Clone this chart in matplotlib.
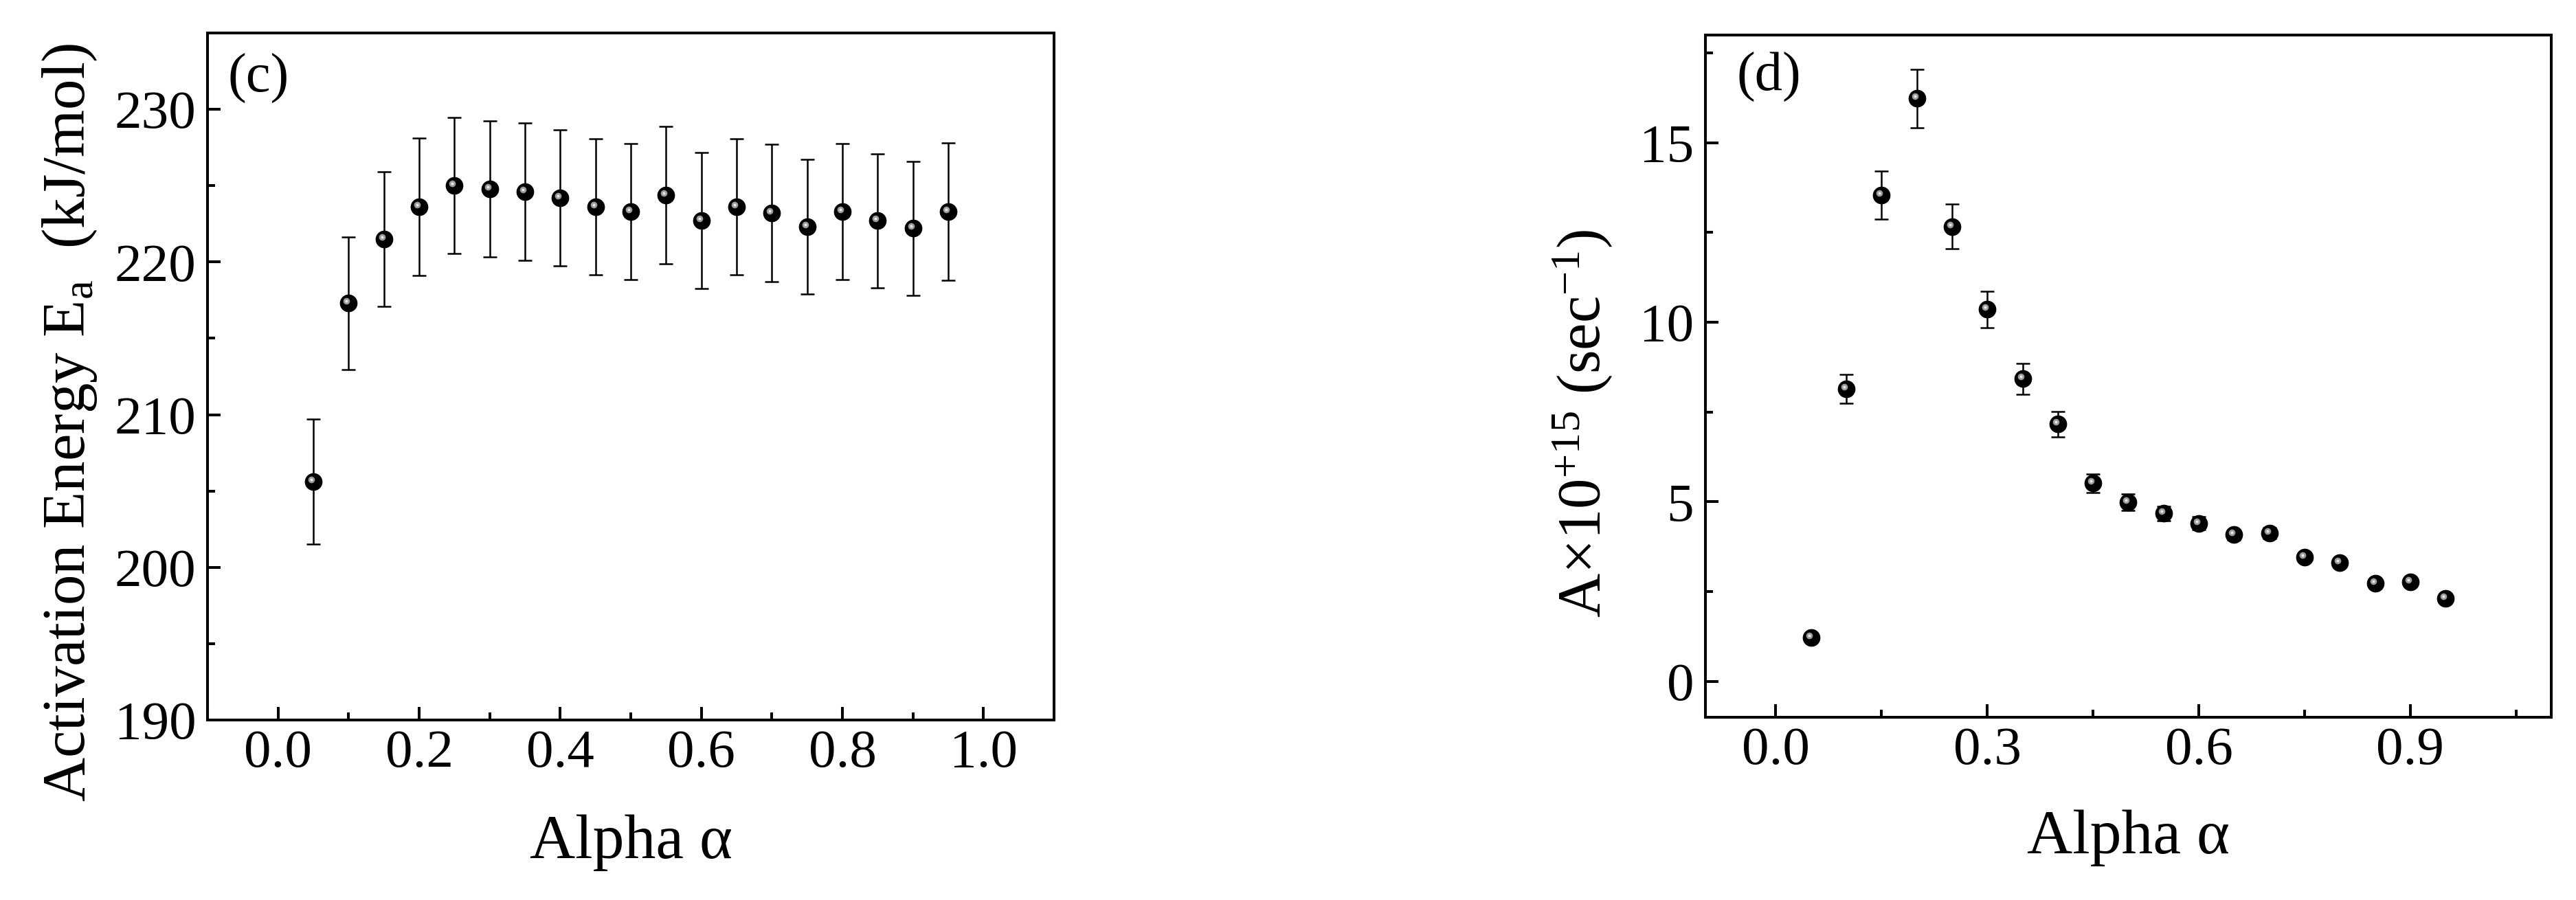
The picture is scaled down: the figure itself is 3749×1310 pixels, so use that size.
import matplotlib
matplotlib.use("Agg")
import matplotlib.pyplot as plt
from matplotlib.ticker import MultipleLocator
from matplotlib.transforms import offset_copy
import numpy as np

plt.rcParams['font.family'] = ['Liberation Serif', 'DejaVu Serif']
plt.rcParams['mathtext.fontset'] = 'custom'
plt.rcParams['mathtext.rm'] = 'Liberation Serif'
plt.rcParams['mathtext.it'] = 'Liberation Serif:italic'

# conversion fraction
alpha = [0.05, 0.10, 0.15, 0.20, 0.25, 0.30, 0.35, 0.40, 0.45, 0.50,
         0.55, 0.60, 0.65, 0.70, 0.75, 0.80, 0.85, 0.90, 0.95]

# (c) activation energy, kJ/mol
ea = [205.6, 217.3, 221.5, 223.6, 225.0, 224.8, 224.6, 224.2, 223.6, 223.3,
      224.4, 222.7, 223.6, 223.2, 222.3, 223.3, 222.7, 222.2, 223.3]
ea_err = [4.1, 4.35, 4.4, 4.5, 4.45, 4.45, 4.5, 4.45, 4.45, 4.45,
          4.5, 4.45, 4.45, 4.5, 4.4, 4.45, 4.4, 4.4, 4.5]

# (d) pre-exponential factor, x10^15 1/s
pre_a = [1.21, 8.15, 13.55, 16.23, 12.67, 10.36, 8.43, 7.16, 5.52, 4.99,
         4.68, 4.40, 4.08, 4.13, 3.45, 3.30, 2.73, 2.76, 2.31]
pre_a_err = [0.08, 0.40, 0.67, 0.81, 0.63, 0.51, 0.43, 0.36, 0.26, 0.23,
             0.20, 0.18, 0.15, 0.15, 0.10, 0.10, 0.08, 0.08, 0.07]


def ball_plot(ax, x, y, err, fig):
    ax.errorbar(x, y, yerr=err, fmt='none', ecolor='black', elinewidth=1.8,
                capsize=7.5, capthick=1.8, zorder=2)
    ax.plot(x, y, 'o', ms=17.5, mfc='black', mec='black', zorder=3)
    # shiny highlight, shifted up-left
    tr = offset_copy(ax.transData, fig=fig, x=-3, y=3, units='dots')
    ax.plot(x, y, 'o', ms=7, mfc='#9a9a9a', mec='none', transform=tr, zorder=4)
    ax.plot(x, y, 'o', ms=3, mfc='#e8e8e8', mec='none', transform=tr, zorder=5)


def style_axes(ax):
    for sp in ax.spines.values():
        sp.set_linewidth(2.9)
    ax.tick_params(which='both', direction='in', top=False, right=False,
                   width=2.9, labelsize=57)
    ax.tick_params(which='major', length=14)
    ax.tick_params(which='minor', length=8)
    ax.tick_params(axis='x', pad=10)
    ax.tick_params(axis='y', pad=12)


fig = plt.figure(figsize=(37.49, 13.10), dpi=100)

ax1 = fig.add_axes([0.0806, 0.2, 0.3286, 0.7634])
ball_plot(ax1, alpha, ea, ea_err, fig)
ax1.set_xlim(-0.1, 1.1)
ax1.set_ylim(190, 235)
ax1.xaxis.set_minor_locator(MultipleLocator(0.1))
ax1.yaxis.set_minor_locator(MultipleLocator(5))
ax1.set_yticks([190, 200, 210, 220, 230])
ax1.set_xticks(np.arange(0, 1.01, 0.2))
ax1.set_xticklabels(['0.0', '0.2', '0.4', '0.6', '0.8', '1.0'])
style_axes(ax1)
ax1.set_xlabel('Alpha α', fontsize=66)
ax1.set_ylabel('Activation Energy E$_{\\mathrm{a}}$\u2002(kJ/mol)', fontsize=64)
ax1.xaxis.set_label_coords(0.5, -0.137)
ax1.yaxis.set_label_coords(-0.128, 0.433)
ax1.text(0.024, 0.97, '(c)', transform=ax1.transAxes, fontsize=58,
         ha='left', va='top')

ax2 = fig.add_axes([0.6620, 0.2031, 0.3284, 0.758])
ball_plot(ax2, alpha, pre_a, pre_a_err, fig)
ax2.set_xlim(-0.1, 1.1)
ax2.set_ylim(-1, 18)
ax2.set_xticks([0.0, 0.3, 0.6, 0.9])
ax2.set_xticklabels(['0.0', '0.3', '0.6', '0.9'])
ax2.xaxis.set_minor_locator(MultipleLocator(0.15))
ax2.set_yticks([0, 5, 10, 15])
ax2.yaxis.set_minor_locator(MultipleLocator(2.5))
style_axes(ax2)
ax2.set_xlabel('Alpha α', fontsize=66)
ax2.set_ylabel('A×10$^{+15}$ (sec$^{-1}$)', fontsize=64)
ax2.xaxis.set_label_coords(0.5, -0.136)
ax2.yaxis.set_label_coords(-0.107, 0.431)
ax2.text(0.037, 0.975, '(d)', transform=ax2.transAxes, fontsize=58,
         ha='left', va='top')

fig.savefig('out.png', dpi=100)
